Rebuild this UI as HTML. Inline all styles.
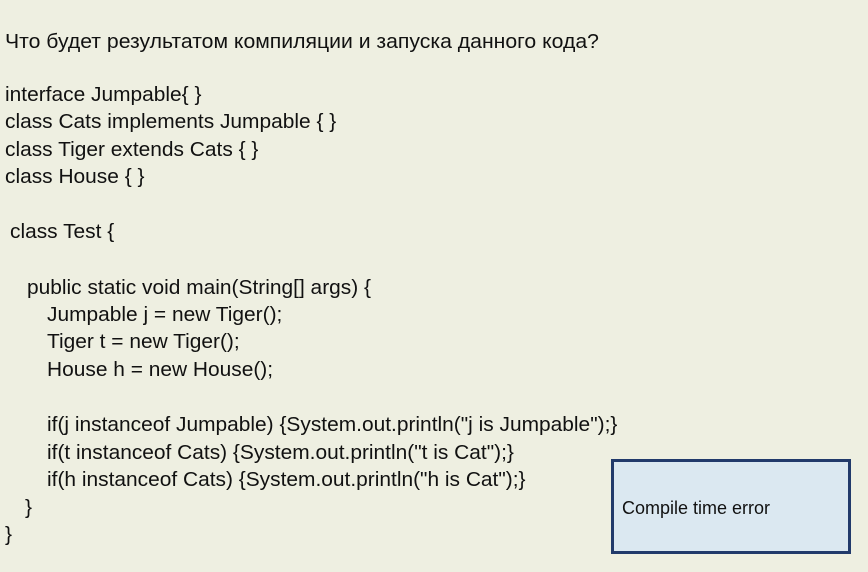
<!DOCTYPE html>
<html><head><meta charset="utf-8"><style>
body{margin:0;width:868px;height:572px;background:#eeefe1;overflow:hidden;position:relative;font-family:"Liberation Sans","Noto Sans CJK SC",sans-serif;color:#111}
.l{position:absolute;white-space:pre;font-size:20.5px;line-height:24px;transform-origin:0 50%;transform:scaleX(1.02)}
.box{position:absolute;left:611px;top:459px;width:234px;height:89px;border:3px solid #213a6b;background:#dbe8f1}
.box span{position:absolute;left:8px;top:36px;font-size:18px;white-space:pre}
</style></head><body>
<div class="l" style="left:5px;top:30px;font-size:20px;transform:scaleX(1.06)">Что будет результатом компиляции и запуска данного кода?</div>
<div class="l" style="left:5px;top:83px">interface Jumpable{ }</div>
<div class="l" style="left:5px;top:110px">class Cats implements Jumpable { }</div>
<div class="l" style="left:5px;top:138px">class Tiger extends Cats { }</div>
<div class="l" style="left:5px;top:165px">class House { }</div>
<div class="l" style="left:10px;top:220px">class Test {</div>
<div class="l" style="left:27px;top:276px">public static void main(String[] args) {</div>
<div class="l" style="left:47px;top:303px">Jumpable j = new Tiger();</div>
<div class="l" style="left:47px;top:330px">Tiger t = new Tiger();</div>
<div class="l" style="left:47px;top:358px">House h = new House();</div>
<div class="l" style="left:47px;top:413px">if(j instanceof Jumpable) {System.out.println("j is Jumpable");}</div>
<div class="l" style="left:47px;top:441px">if(t instanceof Cats) {System.out.println("t is Cat");}</div>
<div class="l" style="left:47px;top:468px">if(h instanceof Cats) {System.out.println("h is Cat");}</div>
<div class="l" style="left:25px;top:496px">}</div>
<div class="l" style="left:5px;top:523px">}</div>
<div class="box"><span>Compile time error</span></div>
</body></html>
